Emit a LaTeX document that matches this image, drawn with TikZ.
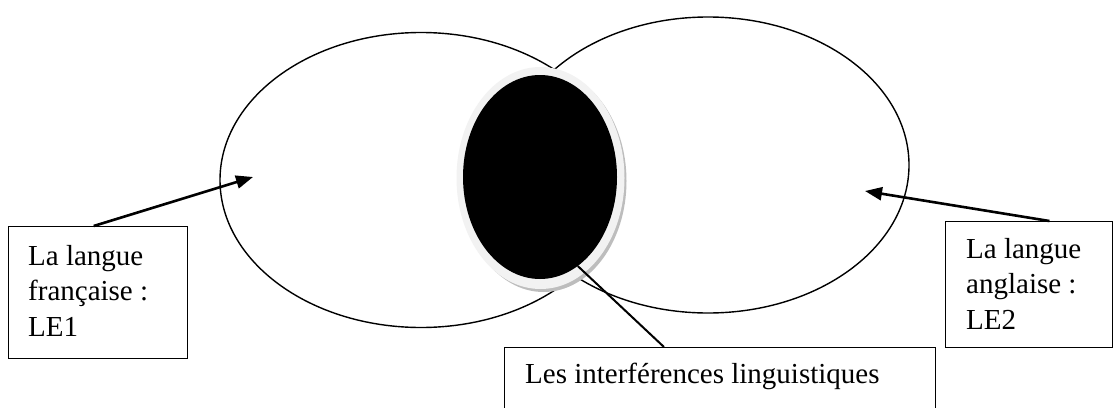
\documentclass[tikz,border=0pt]{standalone}
\usepackage{fontspec}
\setmainfont{Liberation Serif}
\usetikzlibrary{shapes.geometric,arrows.meta,calc}
\definecolor{halo}{HTML}{F2F2F2}
\definecolor{shadowgrey}{HTML}{BDBDBD}
\tikzset{
  bigoval/.style={ellipse, draw=black, line width=1.4pt, fill=white, inner sep=0pt},
  labelbox/.style={rectangle, draw=black, line width=1.4pt, anchor=north west, inner sep=0pt},
  labeltext/.style={inner sep=0pt, align=left, font=\fontsize{29}{35.5}\selectfont},
  arrowline/.style={line width=2.6pt, -{Triangle[length=17pt,width=13pt]}},
  plainline/.style={line width=2pt}
}
\begin{document}
\begin{tikzpicture}[x=1pt,y=-1pt]
\useasboundingbox (0,0) rectangle (1113,407);
% big ellipses
\node[bigoval, minimum width=402pt, minimum height=295pt] (lell) at (421,180) {};
\node[bigoval, minimum width=402pt, minimum height=296pt] (rell) at (708,165) {};
% central oval with halo and shadow
\node[ellipse, fill=shadowgrey, inner sep=0pt, minimum width=166pt, minimum height=222pt] (shad) at (543.5,181) {};
\node[ellipse, fill=halo, inner sep=0pt, minimum width=168pt, minimum height=222pt] (halo) at (540.5,178) {};
\node[ellipse, fill=black, inner sep=0pt, minimum width=154pt, minimum height=204pt] (oval) at (540,177) {};
% boxes
\node[labelbox, minimum width=179pt, minimum height=132pt] (lbox) at (8,226) {};
\node[labelbox, minimum width=167pt, minimum height=126pt] (rbox) at (945,221) {};
\node[labelbox, minimum width=431pt, minimum height=90pt] (bbox) at (504,347) {};
% texts
\node[labeltext, anchor=north west] (ltext) at (28,245) {La langue\\française :\\LE1};
\node[labeltext, anchor=north west] (rtext) at (966,238) {La langue\\anglaise :\\LE2};
\node[labeltext, anchor=base west] (btext) at (525,383) {Les interférences linguistiques};
% arrow tips
\coordinate (ltip) at (253,177);
\coordinate (rtip) at (865,191);
% connectors
\draw[arrowline] ($(lbox.north west)!0.475!(lbox.north east)$) -- (ltip);
\draw[arrowline] ($(rbox.north west)!0.62!(rbox.north east)$) -- (rtip);
\draw[plainline] (oval.-67) -- ($(bbox.north west)!0.37!(bbox.north east)$);
\end{tikzpicture}
\end{document}
